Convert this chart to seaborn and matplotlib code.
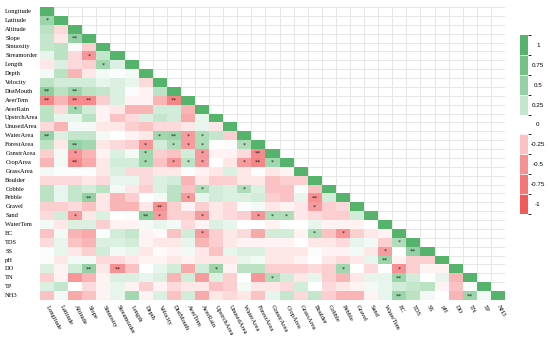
import numpy as np
import pandas as pd
import seaborn as sns
import matplotlib
from matplotlib import pyplot as plt
from matplotlib.colors import LinearSegmentedColormap, ListedColormap, BoundaryNorm

variables = ['Longitude', 'Latitude', 'Altitude', 'Slope', 'Sinuosity', 'Streamorder',
             'Length', 'Depth', 'Velocity', 'DistMouth', 'AverTem', 'AverRain',
             'UpstrchArea', 'UnusedArea', 'WaterArea', 'ForestArea', 'ConstrArea',
             'CropArea', 'GrassArea', 'Boulder', 'Cobble', 'Pebble', 'Gravel', 'Sand',
             'WaterTem', 'EC', 'TDS', 'SS', 'pH', 'DO', 'TN', 'TP', 'NH3']

# lower triangle of the correlation matrix, row by row (diagonal = 1)
lower = [
    [],
    [0.45],
    [0.3, -0.15],
    [0.25, -0.1, 0.5],
    [0.25, 0.3, 0.02, -0.2],
    [0.1, 0.3, -0.15, -0.45, 0.25],
    [-0.1, 0.15, -0.15, -0.2, 0.4, 0.15],
    [0.05, 0.3, -0.3, -0.1, 0.05, 0.02, 0.05],
    [0.3, 0.2, 0.2, 0.2, 0.1, 0.15, 0.1, -0.15],
    [0.55, 0.3, 0.45, 0.3, 0.25, 0.15, 0.02, -0.05, 0.3],
    [-0.6, -0.3, -0.55, -0.55, -0.2, 0.15, -0.05, -0.05, -0.3, -0.6],
    [0.3, -0.15, 0.4, 0.2, -0.05, -0.1, -0.3, -0.3, 0.2, 0.2, -0.3],
    [0.3, 0.1, 0.1, 0.3, -0.05, -0.25, -0.15, 0.15, 0.25, 0.2, -0.35, 0.1],
    [-0.15, -0.3, 0.05, 0.05, -0.1, -0.1, -0.2, -0.25, -0.15, -0.15, -0.1, 0.1, -0.1],
    [0.5, 0.15, 0.25, 0.25, 0.05, 0.0, -0.05, -0.1, 0.4, 0.45, -0.4, 0.35, 0.25, -0.2],
    [0.3, -0.1, 0.5, 0.4, -0.1, -0.15, -0.2, -0.45, 0.2, 0.35, -0.4, 0.35, 0.0, 0.02, 0.35],
    [-0.2, 0.05, -0.45, -0.3, -0.05, 0.15, 0.05, 0.4, -0.2, -0.25, 0.2, -0.4, -0.05, -0.05, -0.15, -0.55],
    [-0.3, 0.05, -0.55, -0.35, -0.1, 0.2, 0.2, 0.4, -0.25, -0.45, 0.3, -0.4, 0.0, -0.1, -0.4, -0.6, 0.4],
    [0.05, 0.02, 0.02, 0.02, -0.1, 0.15, -0.15, -0.15, -0.1, -0.1, 0.02, -0.05, -0.1, 0.15, -0.1, 0.02, -0.1, -0.05],
    [-0.15, -0.15, -0.15, -0.1, -0.15, 0.1, 0.1, -0.15, 0.15, 0.2, -0.3, -0.1, -0.2, -0.2, -0.1, -0.1, -0.25, -0.2, -0.2],
    [0.3, 0.1, 0.25, 0.2, 0.3, 0.05, -0.1, -0.2, 0.15, 0.3, -0.25, 0.35, 0.2, 0.15, 0.35, 0.15, -0.25, -0.25, 0.02, -0.25],
    [0.3, 0.1, 0.25, 0.5, -0.1, -0.3, -0.2, 0.0, 0.05, 0.3, -0.4, 0.1, 0.2, 0.15, 0.15, 0.2, -0.2, -0.25, 0.1, -0.5, 0.2],
    [-0.2, -0.2, -0.15, -0.25, -0.1, -0.3, -0.3, -0.1, -0.5, -0.2, -0.05, -0.2, -0.1, -0.15, 0.02, 0.05, -0.1, -0.05, -0.1, -0.4, -0.2, -0.15],
    [-0.15, 0.2, -0.4, -0.1, 0.15, 0.0, 0.02, 0.55, -0.4, -0.2, -0.2, -0.4, -0.1, -0.15, -0.2, -0.45, 0.35, 0.35, -0.1, -0.15, -0.2, -0.2, 0.2],
    [0.05, -0.1, 0.15, 0.15, -0.2, -0.05, -0.05, 0.05, 0.1, 0.05, -0.15, -0.05, 0.15, 0.1, 0.0, 0.0, -0.05, 0.0, 0.0, 0.1, -0.05, -0.05, -0.05, 0.0],
    [-0.25, 0.05, -0.3, -0.35, 0.02, 0.2, 0.25, -0.05, -0.02, -0.25, 0.2, -0.4, -0.2, -0.1, -0.15, -0.35, 0.2, 0.2, -0.05, 0.35, -0.25, -0.45, -0.2, -0.1, -0.05],
    [-0.15, 0.1, -0.25, -0.3, 0.15, 0.15, 0.2, -0.05, -0.1, -0.1, 0.1, -0.3, -0.2, -0.1, -0.05, -0.05, -0.05, -0.05, 0.0, -0.1, -0.1, -0.15, 0.1, 0.05, -0.2, 0.35],
    [0.02, 0.1, -0.1, -0.2, 0.2, 0.05, 0.1, -0.1, -0.02, -0.05, 0.05, -0.1, -0.25, 0.1, 0.15, 0.15, -0.1, -0.1, -0.1, 0.02, -0.05, -0.05, 0.05, -0.1, -0.4, 0.0, 0.5],
    [0.02, -0.1, 0.05, 0.05, -0.15, -0.15, -0.1, -0.05, -0.05, -0.1, -0.05, -0.1, -0.1, -0.1, 0.1, 0.05, -0.1, -0.1, -0.05, 0.0, -0.1, -0.15, -0.1, 0.1, 0.45, -0.05, -0.2, -0.2],
    [0.15, -0.05, 0.2, 0.5, -0.1, -0.5, -0.25, 0.0, 0.1, 0.2, -0.35, 0.2, 0.45, -0.05, 0.3, 0.3, -0.2, -0.2, -0.2, -0.15, -0.2, 0.4, 0.0, -0.15, 0.0, -0.5, -0.2, -0.05, -0.05],
    [-0.2, -0.05, -0.45, -0.3, -0.05, 0.15, 0.15, 0.1, 0.15, -0.3, 0.2, -0.4, 0.15, -0.2, 0.0, -0.45, 0.35, 0.2, -0.1, 0.1, -0.2, -0.3, -0.1, 0.1, 0.1, 0.45, 0.2, 0.0, 0.1, -0.3],
    [0.15, 0.25, 0.0, -0.15, -0.05, 0.1, -0.05, -0.2, -0.05, -0.15, -0.1, -0.1, -0.25, -0.2, 0.05, -0.1, -0.1, -0.15, 0.2, 0.0, -0.15, -0.1, -0.05, 0.05, 0.1, 0.2, 0.25, 0.3, -0.05, -0.25, 0.02],
    [-0.25, 0.05, -0.35, -0.25, -0.05, 0.1, 0.4, -0.05, 0.15, -0.25, 0.2, -0.35, -0.1, -0.15, -0.1, -0.25, 0.1, 0.25, -0.15, 0.25, -0.2, -0.3, -0.3, -0.05, 0.1, 0.45, 0.3, 0.05, 0.0, -0.3, 0.45, 0.05],
]

# significance marks: (row, col, label)
stars = [
    (1, 0, '*'), (3, 2, '**'), (5, 3, '*'), (6, 4, '*'), (9, 0, '**'), (9, 2, '**'),
    (10, 0, '**'), (10, 2, '**'), (10, 3, '**'), (10, 9, '**'), (11, 2, '*'),
    (14, 0, '**'), (14, 8, '*'), (14, 9, '**'), (14, 10, '*'), (14, 11, '*'),
    (15, 2, '**'), (15, 7, '*'), (15, 9, '*'), (15, 10, '*'), (15, 11, '*'), (15, 14, '*'),
    (16, 2, '*'), (16, 7, '*'), (16, 11, '*'), (16, 15, '**'),
    (17, 2, '**'), (17, 7, '*'), (17, 9, '*'), (17, 10, '*'), (17, 11, '*'), (17, 14, '*'),
    (17, 15, '**'), (17, 16, '*'), (20, 11, '*'), (20, 14, '*'), (21, 3, '**'), (21, 10, '*'),
    (21, 19, '**'), (22, 8, '**'), (22, 19, '*'), (23, 2, '*'), (23, 7, '**'), (23, 8, '*'),
    (23, 11, '*'), (23, 15, '*'), (23, 16, '*'), (23, 17, '*'), (25, 11, '*'), (25, 19, '*'),
    (25, 21, '*'), (26, 25, '*'), (27, 24, '*'), (27, 26, '**'), (28, 24, '**'),
    (29, 3, '**'), (29, 5, '**'), (29, 12, '*'), (29, 21, '*'), (29, 25, '*'),
    (30, 16, '*'), (30, 25, '**'), (32, 25, '**'), (32, 30, '**'),
]

cbar_levels = [1, 0.75, 0.5, 0.25, 0, -0.25, -0.5, -0.75, -1]

n = len(variables)
mat = np.zeros((n, n))
for i, row in enumerate(lower):
    assert len(row) == i, (i, len(row))
    mat[i, :i] = row
    mat[i, i] = 1.0
annot = np.full((n, n), '', dtype=object)
for r, c, s in stars:
    annot[r, c] = s
df = pd.DataFrame(mat, index=variables, columns=variables)

cmap = LinearSegmentedColormap.from_list(
    'rg', [(0.0, '#f25a5a'), (0.3, '#f79c9e'), (0.5, '#ffffff'),
           (0.7, '#a3d8b0'), (1.0, '#56b36b')])
upper = np.triu(np.ones((n, n), dtype=bool), k=1)

fig = plt.figure(figsize=(5.5, 3.42), dpi=100)
ax = fig.add_axes([40 / 550, 1 - 300 / 342, 465 / 550, 293 / 342])

# empty upper triangle with light grid
sns.heatmap(pd.DataFrame(np.zeros((n, n)), index=variables, columns=variables),
            mask=~upper, cmap=cmap, vmin=-1, vmax=1, cbar=False,
            linewidths=0.5, linecolor='#e6e6e6', ax=ax)
sns.heatmap(df, mask=upper, cmap=cmap, vmin=-1, vmax=1, cbar=False,
            annot=annot, fmt='', annot_kws={'fontsize': 4.5, 'color': '#222222'}, ax=ax)
ax.axhline(n, color='#d5d5d5', lw=0.8)

ax.set_xticks(np.arange(n) + 0.5)
ax.set_yticks(np.arange(n) + 0.5)
ax.set_yticklabels(variables, ha='left', fontsize=4.7, family='Liberation Serif')
ax.set_xticklabels(variables, rotation=-62, ha='left', va='center', rotation_mode='anchor',
                   fontsize=4.7, family='Liberation Serif')
ax.tick_params(axis='y', length=0, pad=25)
ax.tick_params(axis='x', length=0, pad=4)
ax.set_xlabel('')
ax.set_ylabel('')

# discrete colorbar
cax = fig.add_axes([520 / 550, 1 - 214 / 342, 8 / 550, 179 / 342])
levels_sorted = sorted(cbar_levels)
colors = [cmap((v + 1) / 2) for v in levels_sorted]
bounds = np.concatenate([[levels_sorted[0] - 0.125], np.array(levels_sorted) + 0.125])
cb = matplotlib.colorbar.ColorbarBase(cax, cmap=ListedColormap(colors),
                                      norm=BoundaryNorm(bounds, len(colors)),
                                      ticks=levels_sorted, drawedges=True)
cb.outline.set_visible(False)
cb.dividers.set_color('white')
cb.dividers.set_linewidth(0.6)
cb.set_ticklabels(['%g' % v for v in levels_sorted])
cax.tick_params(length=0, pad=7, labelsize=4.5)
for t in cax.get_yticklabels():
    t.set_ha('center')
    t.set_family('Liberation Sans')

fig.savefig('out.png', dpi=100)
